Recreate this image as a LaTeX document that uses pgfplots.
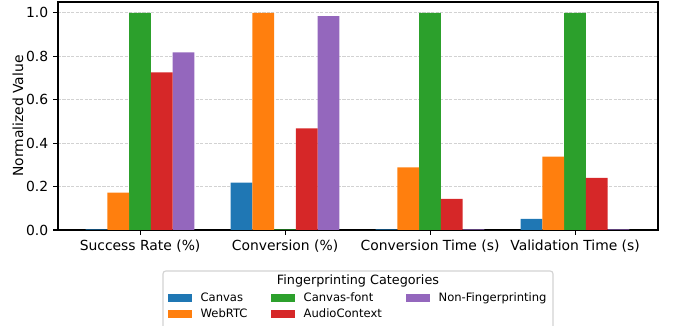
\documentclass[border=0pt]{standalone}
\usepackage{fontspec}
\setmainfont{DejaVu Sans}
\usepackage{pgfplots}
\pgfplotsset{compat=1.18}

\definecolor{cCanvas}{HTML}{1F77B4}
\definecolor{cWebRTC}{HTML}{FF7F0E}
\definecolor{cFont}{HTML}{2CA02C}
\definecolor{cAudio}{HTML}{D62728}
\definecolor{cNonFP}{HTML}{9467BD}

% x: 0 = Success Rate, 1 = Conversion, 2 = Conversion Time, 3 = Validation Time
\begin{document}
\begin{tikzpicture}
\begin{axis}[
  at={(0,0)}, anchor=south west,
  scale only axis, width=432pt, height=164.16pt,
  xmin=-0.566, xmax=3.572, ymin=0, ymax=1.05,
  xtick={0,1,2,3},
  xticklabels={Success Rate (\%), Conversion (\%), Conversion Time (s), Validation Time (s)},
  ytick={0,0.2,0.4,0.6,0.8,1.0},
  yticklabel style={/pgf/number format/.cd, fixed, fixed zerofill, precision=1},
  /pgf/number format/assume math mode=true,
  tick label style={font=\fontsize{10}{12}\selectfont},
  tick align=outside, major tick length=3.5pt,
  tick style={black, line width=0.8pt},
  xtick pos=bottom, ytick pos=left,
  ymajorgrids,
  grid style={gray!35, dash pattern=on 2.2pt off 1pt, line width=0.6pt},
  axis line style={line width=0.8pt},
  ylabel={Normalized Value},
  ylabel style={font=\fontsize{10}{12}\selectfont, at={(axis description cs:-0.0667,0.5)}, anchor=center},
  legend image code/.code={\fill[#1] (0pt,-2.9pt) rectangle (16.8pt,2.9pt);},
  legend columns=3,
  legend cell align=left,
  legend style={at={(0.1833,-0.271)}, anchor=north west, draw=none, fill=none,
    font=\fontsize{8.33}{10}\selectfont, column sep=0pt, row sep=3.2pt, inner sep=0pt,
    nodes={inner sep=0pt, text height=6.5pt, text depth=1.8pt}},
]
\addplot[ybar, bar width=0.15, bar shift=-0.30, fill=cCanvas, draw=none]
  coordinates {(0,0.003) (1,0.218) (2,0.003) (3,0.051)};
\addlegendentry{\hspace{6.5pt}\makebox[50.9pt][l]{Canvas}}
\addplot[ybar, bar width=0.15, bar shift=0.00, fill=cFont, draw=none]
  coordinates {(0,1.0) (1,0.003) (2,1.0) (3,1.0)};
\addlegendentry{\hspace{6.5pt}\makebox[73.9pt][l]{Canvas-font}}
\addplot[ybar, bar width=0.15, bar shift=0.30, fill=cNonFP, draw=none]
  coordinates {(0,0.818) (1,0.985) (2,0.003) (3,0.003)};
\addlegendentry{\hspace{6.5pt}Non-Fingerprinting}
\addplot[ybar, bar width=0.15, bar shift=-0.15, fill=cWebRTC, draw=none]
  coordinates {(0,0.172) (1,1.0) (2,0.288) (3,0.338)};
\addlegendentry{\hspace{6.5pt}\makebox[50.9pt][l]{WebRTC}}
\addplot[ybar, bar width=0.15, bar shift=0.15, fill=cAudio, draw=none]
  coordinates {(0,0.726) (1,0.468) (2,0.143) (3,0.240)};
\addlegendentry{\hspace{6.5pt}\makebox[73.9pt][l]{AudioContext}}
\end{axis}
% legend frame and title
\draw[gray!35, line width=0.8pt, rounded corners=2pt] (75.6pt,-90pt) rectangle (356.4pt,-29.52pt);
\node[font=\fontsize{9.2}{11}\selectfont] at (216pt,-36.7pt) {Fingerprinting Categories};
\pgfresetboundingbox
\useasboundingbox (-41.76pt,-69.12pt) rectangle (442.8pt,165.6pt);
\end{tikzpicture}
\end{document}
